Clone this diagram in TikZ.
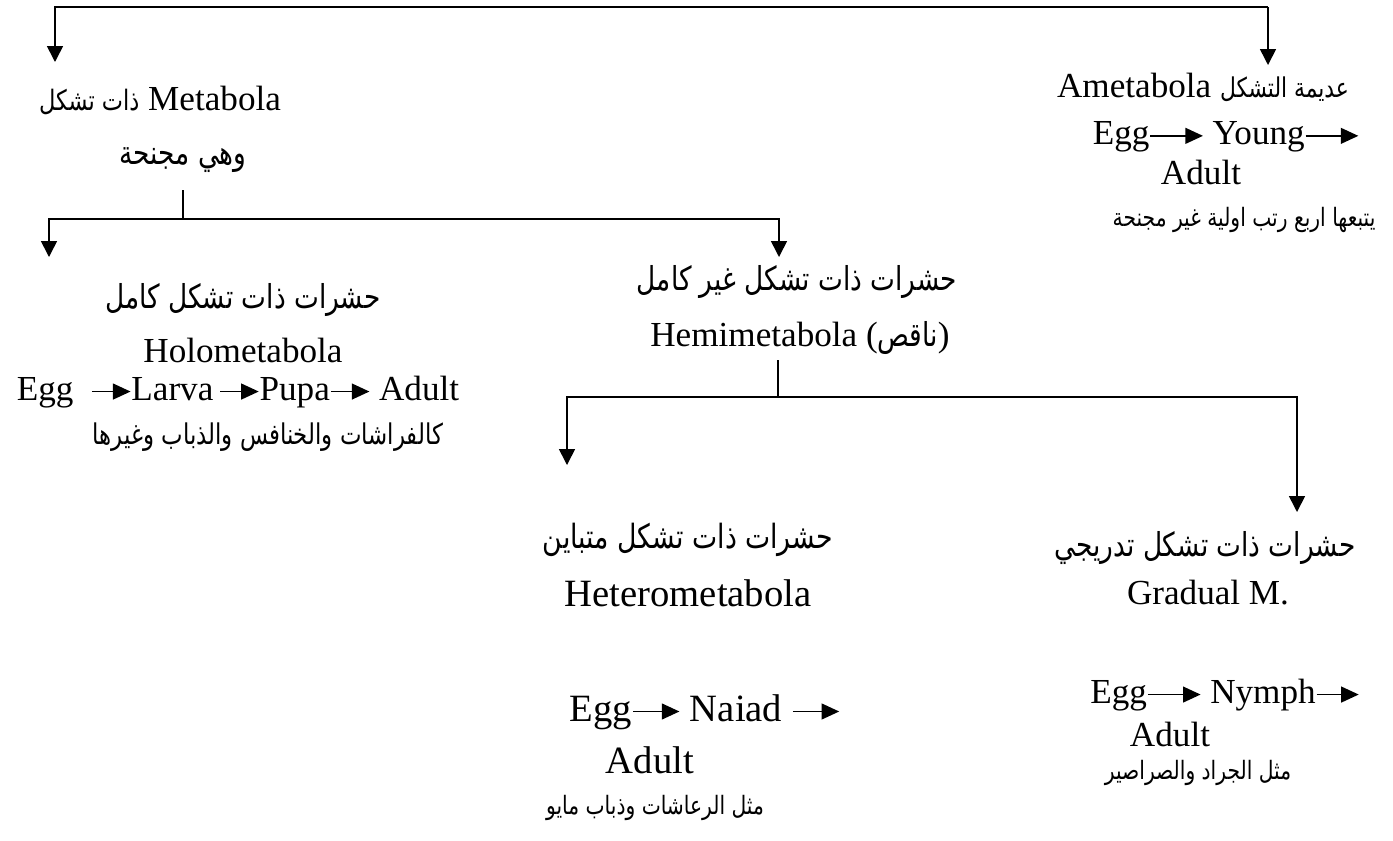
\documentclass[tikz,border=0pt]{standalone}
\usepackage{fontspec}
\setmainfont{Liberation Serif}
\newfontfamily\arabicfont[Script=Arabic, FakeStretch=0.8]{DejaVu Sans}
\TeXXeTstate=1
\usetikzlibrary{arrows.meta, positioning}

% right-to-left run of Arabic text
\newcommand{\artext}[1]{{\arabicfont\beginR #1\endR}}
% little arrow between the stages of a life cycle
\newcommand{\stagearrow}[1][1.2em]{\tikz[baseline=-0.55ex]\draw[line width=1pt, -{Triangle[length=10pt,width=9pt]}] (0,0) -- (#1,0);}

\begin{document}
\begin{tikzpicture}[
  x=0.02cm, y=-0.02cm,
  arr/.style={-{Triangle[length=9pt,width=9pt]}, line width=0.9pt},
  link/.style={line width=0.9pt},
  latin/.style={font=\fontsize{20}{24}\selectfont, inner sep=0pt},
  big/.style={font=\fontsize{22}{26}\selectfont, inner sep=0pt},
  arhead/.style={font=\fontsize{18.75}{22}\arabicfont, inner sep=0pt},
  arbig/.style={font=\fontsize{19}{23}\arabicfont, inner sep=0pt},
  note/.style={font=\fontsize{14.4}{17}\arabicfont, inner sep=0pt}
]
  \useasboundingbox (0,0) rectangle (1393,840);

  %% Ametabola (right branch of the root)
  \node[latin] (ametab)    at (1203,87)  {Ametabola \artext{\fontsize{15.5}{18}\selectfont عديمة التشكل}};
  \node[latin] (ametSeq)   at (1226,137) {Egg\stagearrow[1.5em] Young\stagearrow[1.5em]};
  \node[latin] (ametAdult) at (1201,172) {Adult};
  \node[note]  (ametEx)    at (1244,220) {\artext{يتبعها اربع رتب اولية غير مجنحة}};

  %% Metabola (left branch of the root)
  \node[latin]  (metab)  at (160,100) {\artext{\fontsize{16}{19}\selectfont ذات تشكل} Metabola};
  \node[arhead] (winged) at (183,160) {\artext{وهي مجنحة}};

  %% Holometabola
  \node[arhead] (holoAr)  at (243,300) {\artext{حشرات ذات تشكل كامل}};
  \node[latin]  (holo)    at (243,350) {Holometabola};
  \node[latin]  (holoSeq) at (238,392) {Egg\ \ \stagearrow[1.1em]Larva\,\stagearrow[1.1em]Pupa\stagearrow[1.1em] Adult};
  \node[note, font=\fontsize{16.25}{19}\arabicfont] (holoEx) at (268,437) {\artext{كالفراشات والخنافس والذباب وغيرها}};

  %% Hemimetabola
  \node[arhead] (hemiAr) at (797,282) {\artext{حشرات ذات تشكل غير كامل}};
  \node[latin]  (hemi)   at (800,338) {Hemimetabola (\artext{\fontsize{18.75}{22}\selectfont ناقص})};

  %% Heterometabola
  \node[arbig] (hetAr)    at (688,540) {\artext{حشرات ذات تشكل متباين}};
  \node[big]   (het)      at (688,593) {Heterometabola};
  \node[big]   (hetSeq)   at (705,712) {Egg\stagearrow[1.2em] Naiad \stagearrow[1.2em]};
  \node[big]   (hetAdult) at (650,760) {Adult};
  \node[note]  (hetEx)    at (655,808) {\artext{مثل الرعاشات وذباب مايو}};

  %% Gradual metamorphosis
  \node[arhead] (gradAr)    at (1205,548) {\artext{حشرات ذات تشكل تدريجي}};
  \node[latin]  (grad)      at (1208,593) {Gradual M.};
  \node[latin]  (gradSeq)   at (1225,695) {Egg\stagearrow[1.5em] Nymph\stagearrow[1.2em]};
  \node[latin]  (gradAdult) at (1170,734) {Adult};
  \node[note]   (gradEx)    at (1198,773) {\artext{مثل الجراد والصراصير}};

  %% junctions and arrow ends
  \coordinate (rootL)    at (55,7);
  \coordinate (rootR)    at (1268,7);
  \coordinate (metabIn)  at (55,62);
  \coordinate (ametIn)   at (1268,65);
  \coordinate (wingTop)  at (183,190);
  \coordinate (wingJ)    at (183,219);
  \coordinate (holoIn)   at (49,257);
  \coordinate (hemiIn)   at (779,257);
  \coordinate (hemiTop)  at (778,360);
  \coordinate (hemiJ)    at (778,397);
  \coordinate (hetIn)    at (567,465);
  \coordinate (gradIn)   at (1297,512);

  %% root split
  \draw[arr] (rootR) -- (rootL) -- (metabIn);
  \draw[arr] (rootR) -- (ametIn);
  %% winged insects split
  \draw[link] (wingTop) -- (wingJ);
  \draw[arr] (wingJ) -| (holoIn);
  \draw[arr] (wingJ) -| (hemiIn);
  %% incomplete metamorphosis split
  \draw[link] (hemiTop) -- (hemiJ);
  \draw[arr] (hemiJ) -| (hetIn);
  \draw[arr] (hemiJ) -| (gradIn);
\end{tikzpicture}
\end{document}
